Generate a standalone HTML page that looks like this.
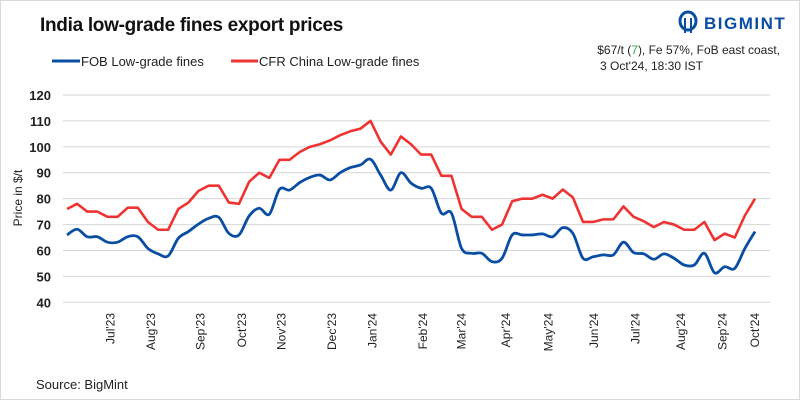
<!DOCTYPE html>
<html><head><meta charset="utf-8"><style>
body{margin:0;width:800px;height:400px;overflow:hidden;background:#fff;font-family:"Liberation Sans",sans-serif}
#wrap{position:absolute;left:0;top:0;width:798px;height:398px;border:1px solid #d9d9d9}
</style></head><body>
<div id="wrap"></div>
<svg id="c" width="800" height="400" style="position:absolute;left:0;top:0">
<text x="40" y="31" font-size="19" font-weight="bold" fill="#111" letter-spacing="-0.3">India low-grade fines export prices</text>
<g>
<g><line x1="52" y1="61" x2="80" y2="61" stroke="#0a4ea3" stroke-width="3"/><text x="81" y="66" font-size="13" fill="#222">FOB Low-grade fines</text></g>
<g><line x1="231" y1="61" x2="258" y2="61" stroke="#ee3333" stroke-width="3"/><text x="259" y="66" font-size="13" fill="#222">CFR China Low-grade fines</text></g>
</g>
<g>
<ellipse cx="688" cy="21" rx="8" ry="9" fill="none" stroke="#0a4ea3" stroke-width="3"/>
<line x1="685" y1="18" x2="685" y2="33" stroke="#0a4ea3" stroke-width="2"/><line x1="691" y1="18" x2="691" y2="33" stroke="#0a4ea3" stroke-width="2"/>
<text x="704" y="29" font-size="17" font-weight="bold" fill="#0a4ea3" letter-spacing="1.5">BIGMINT</text>
</g>
<text x="780" y="54" font-size="12" fill="#222" text-anchor="end">$67/t (<tspan fill="#2aa84a">7</tspan>), Fe 57%, FoB east coast,</text>
<text x="600" y="70" font-size="12" fill="#222">3 Oct'24, 18:30 IST</text>
<text transform="translate(22,198) rotate(-90)" font-size="12" fill="#222" text-anchor="middle">Price in $/t</text>
<g id="grid"></g><g id="ylab"></g><g id="xlab"></g><g id="series"></g>
<text x="36" y="389" font-size="13" fill="#222">Source: BigMint</text>
</svg>
<script>
const yTicks=[40,50,60,70,80,90,100,110,120];
const fobValues=[66,68.2,65.3,65.3,63.2,63.2,65.3,65.3,60.8,58.7,57.9,64.7,67.3,70.2,72.4,72.8,66.6,66,73.3,76.3,74,83.6,83.3,86.2,88.2,89.1,87.2,90,92,93,95.2,89.1,83.3,90,86,84,84,74.4,74.4,60.8,58.9,58.9,55.7,57,66,66,66,66.4,65.3,68.8,66.6,57,57.6,58.3,58.3,63.2,59.2,58.7,56.6,58.7,57,54.4,54.4,58.9,51.4,53.7,53.1,60.8,67.3];
const cfrValues=[76,78,75,75,73,73,76.5,76.5,71,68,68,76,78.5,83,85,85,78.5,78,86.5,90,88,95,95,98,100,101,102.5,104.5,106,107,110,102,97,104,101,97,97,88.8,88.8,76,73,73,68,70,79,80,80,81.5,80,83.5,80.5,71,71,72,72,77,73,71.3,69,71,70,68,68,71,64,66.5,65,73.5,80];
const monthLabels=["Jul'23","Aug'23","Sep'23","Oct'23","Nov'23","Dec'23","Jan'24","Feb'24","Mar'24","Apr'24","May'24","Jun'24","Jul'24","Aug'24","Sep'24","Oct'24"];
const monthIdx=[4.3,8.3,13.2,17.3,21.2,26.2,30.2,35.2,39,43.4,47.6,52.1,56.2,60.7,64.8,68];
const NS="http://www.w3.org/2000/svg";
const x0=67,x1=755,yTop=95,yBot=302.3,vMin=40,vMax=120;
function xS(i){return x0+i*(x1-x0)/(cfrValues.length-1);}
function yS(v){return yBot-(v-vMin)*(yBot-yTop)/(vMax-vMin);}
function mk(tag,attrs,parent){const e=document.createElementNS(NS,tag);for(const k in attrs)e.setAttribute(k,attrs[k]);document.getElementById(parent).appendChild(e);return e;}
yTicks.forEach(t=>{
 const l=mk('line',{x1:63,x2:770,y1:yS(t),y2:yS(t),stroke:'#d6d6d6','stroke-width':1},'grid');
 
 
 const tx=mk('text',{x:51,y:yS(t)+5,'font-size':13,'font-weight':'bold','text-anchor':'end',fill:'#222'},'ylab');
 tx.textContent=t;
 
 
});
monthLabels.forEach((m,k)=>{
 const x=xS(monthIdx[k]);
 const tx=mk('text',{transform:`translate(${x+4},313) rotate(-90)`,'font-size':12,'text-anchor':'end',fill:'#222'},'xlab');
 tx.textContent=m;
 
 
});
const cfrPts=cfrValues.map((v,i)=>[xS(i),yS(v)]);
const cfr=mk('polyline',{points:cfrPts.map(p=>p.join(',')).join(' '),fill:'none',stroke:'#ee3333','stroke-width':2.6,'stroke-linejoin':'round'},'series');


const fp=fobValues.map((v,i)=>[xS(i),yS(v)]);
let d=`M${fp[0][0]},${fp[0][1]}`;
for(let i=0;i<fp.length-1;i++){
 const p0=fp[Math.max(0,i-1)],p1=fp[i],p2=fp[i+1],p3=fp[Math.min(fp.length-1,i+2)];
 const c1=[p1[0]+(p2[0]-p0[0])/6,p1[1]+(p2[1]-p0[1])/6],c2=[p2[0]-(p3[0]-p1[0])/6,p2[1]-(p3[1]-p1[1])/6];
 d+=` C${c1[0]},${c1[1]} ${c2[0]},${c2[1]} ${p2[0]},${p2[1]}`;
}
const fob=mk('path',{d:d,fill:'none',stroke:'#0a4ea3','stroke-width':2.8},'series');


</script>
</body></html>
